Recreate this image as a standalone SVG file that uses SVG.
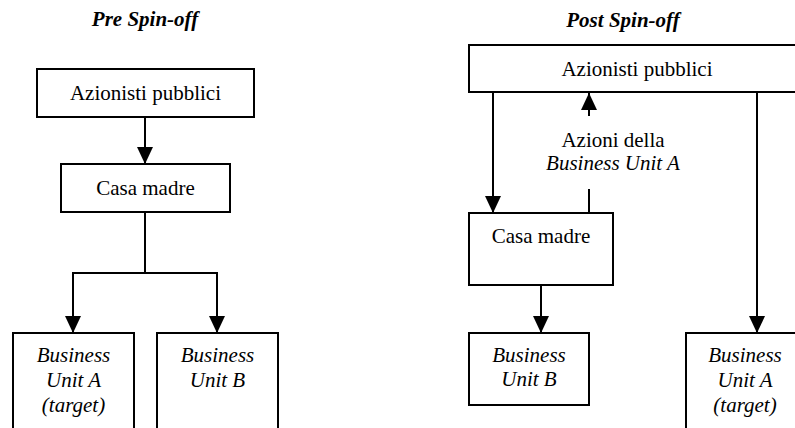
<svg xmlns="http://www.w3.org/2000/svg" width="795" height="428" viewBox="0 0 795 428">
  <style>
    text { font-family: "Liberation Serif", "Times New Roman", serif; font-size: 21px; fill: #000; text-anchor: middle; }
    .title { font-weight: bold; font-style: italic; }
    .it { font-style: italic; }
    .box { fill: #fff; stroke: #000; stroke-width: 2; }
    .link { fill: none; stroke: #000; stroke-width: 2; }
  </style>
  <defs>
    <marker id="arrow" viewBox="0 0 17 16" refX="17" refY="8" markerWidth="17" markerHeight="16" markerUnits="userSpaceOnUse" orient="auto">
      <path d="M0,0 L17,8 L0,16 Z" fill="#000"/>
    </marker>
  </defs>

  <rect width="795" height="428" fill="#fff"/>

  <!-- Section titles -->
  <text class="title" x="145" y="26">Pre Spin-off</text>
  <text class="title" x="623" y="27">Post Spin-off</text>

  <!-- Connectors -->
  <g id="connectors">
    <!-- Pre spin-off -->
    <path class="link" d="M145,117 V164" marker-end="url(#arrow)"/>
    <path class="link" d="M145,212 V273 H73 V333" marker-end="url(#arrow)"/>
    <path class="link" d="M145,273 H217 V333" marker-end="url(#arrow)"/>
    <!-- Post spin-off -->
    <path class="link" d="M493,92 V213" marker-end="url(#arrow)"/>
    <path class="link" d="M589,116 V93" marker-end="url(#arrow)"/>
    <path class="link" d="M589,189 V213"/>
    <path class="link" d="M757,92 V333" marker-end="url(#arrow)"/>
    <path class="link" d="M541,285 V333" marker-end="url(#arrow)"/>
    <text x="613" y="147">Azioni della</text>
    <text class="it" x="613" y="170">Business Unit A</text>
  </g>

  <!-- Pre spin-off nodes -->
  <g id="pre-azionisti">
    <rect class="box" x="37" y="69" width="217" height="48"/>
    <text x="145.5" y="100">Azionisti pubblici</text>
  </g>
  <g id="pre-casa-madre">
    <rect class="box" x="61" y="164" width="169" height="48"/>
    <text x="145.5" y="195">Casa madre</text>
  </g>
  <g id="pre-bu-a">
    <rect class="box" x="13" y="333" width="121" height="110"/>
    <text class="it" x="73.5" y="362">Business</text>
    <text class="it" x="73.5" y="387">Unit A</text>
    <text class="it" x="73.5" y="412">(target)</text>
  </g>
  <g id="pre-bu-b">
    <rect class="box" x="157" y="333" width="121" height="110"/>
    <text class="it" x="217.5" y="362">Business</text>
    <text class="it" x="217.5" y="387">Unit B</text>
  </g>

  <!-- Post spin-off nodes -->
  <g id="post-azionisti">
    <rect class="box" x="469" y="45" width="340" height="47"/>
    <text x="637" y="76">Azionisti pubblici</text>
  </g>
  <g id="post-casa-madre">
    <rect class="box" x="469" y="213" width="144" height="72"/>
    <text x="541" y="243">Casa madre</text>
  </g>
  <g id="post-bu-b">
    <rect class="box" x="469" y="333" width="120" height="72"/>
    <text class="it" x="529" y="362">Business</text>
    <text class="it" x="529" y="386">Unit B</text>
  </g>
  <g id="post-bu-a">
    <rect class="box" x="686" y="333" width="120" height="110"/>
    <text class="it" x="745" y="362">Business</text>
    <text class="it" x="745" y="387">Unit A</text>
    <text class="it" x="745" y="412">(target)</text>
  </g>
</svg>
